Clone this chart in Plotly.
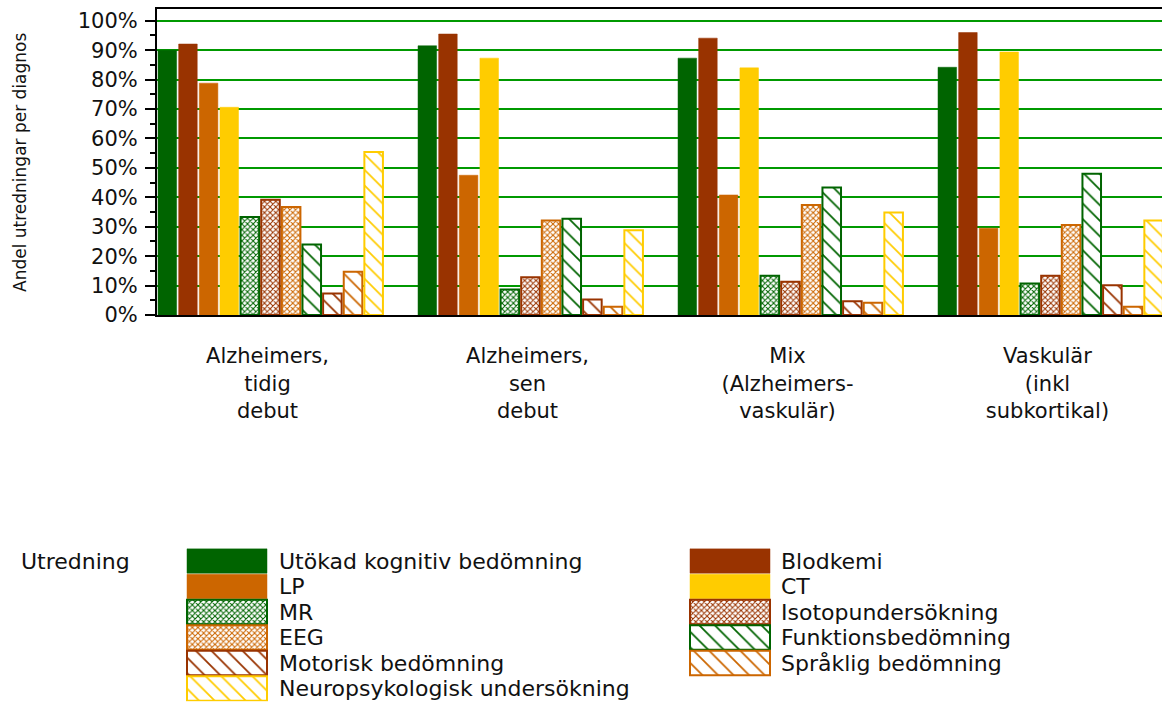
import plotly.graph_objects as go

# ---- data ----
categories = ["Alzheimers,<br>tidig<br>debut", "Alzheimers,<br>sen<br>debut",
              "Mix<br>(Alzheimers-<br>vaskulär)", "Vaskulär<br>(inkl<br>subkortikal)"]
series_names = ["Utökad kognitiv bedömning", "Blodkemi", "LP", "CT", "MR",
                "Isotopundersökning", "EEG", "Funktionsbedömning",
                "Motorisk bedömning", "Språklig bedömning", "Neuropsykologisk undersökning"]
utokad = [90.0, 91.5, 87.3, 84.2]
blodkemi = [92.1, 95.5, 94.1, 96.0]
lp = [78.8, 47.5, 40.8, 29.5]
ct = [70.6, 87.3, 84.0, 89.4]
mr = [33.3, 8.7, 13.3, 10.7]
isotop = [39.2, 12.8, 11.3, 13.3]
eeg = [36.7, 32.1, 37.4, 30.6]
funktion = [24.0, 32.7, 43.3, 48.0]
motorisk = [7.3, 5.3, 4.7, 10.1]
spraklig = [14.7, 2.8, 4.2, 2.8]
neuro = [55.4, 28.8, 34.8, 32.1]
series_values = [utokad, blodkemi, lp, ct, mr, isotop, eeg, funktion, motorisk, spraklig, neuro]
y_ticks = list(range(0, 101, 10))
y_tick_labels = [f"{v}%" for v in y_ticks]

# ---- styles ----
GREEN, BROWN, ORANGE, YELLOW = "#006400", "#993300", "#CC6600", "#FFCC00"
styles = [(GREEN, ""), (BROWN, ""), (ORANGE, ""), (YELLOW, ""),
          (GREEN, "x"), (BROWN, "x"), (ORANGE, "x"),
          (GREEN, "\\"), (BROWN, "\\"), (ORANGE, "\\"), (YELLOW, "\\")]

W, H = 1162, 706
FONT = "DejaVu Sans"
TXT = "#111111"
FS = 21
FS_LEG = 22


def marker_for(color, shape):
    if shape == "":
        return dict(color=color, line=dict(color=color, width=0.5))
    size, sol = (4, 0.45) if shape == "x" else (11, 0.16)
    return dict(color="white", line=dict(color=color, width=2),
                pattern=dict(shape=shape, fgcolor=color, bgcolor="white", fgopacity=1,
                             size=size, solidity=sol, fillmode="replace"))


fig = go.Figure()
for name, vals, (col, shp) in zip(series_names, series_values, styles):
    fig.add_trace(go.Bar(x=categories, y=vals, name=name, marker=marker_for(col, shp),
                         showlegend=False, xaxis="x", yaxis="y",
                         hovertemplate="%{y:.1f}%<extra>" + name + "</extra>"))

# ---- custom legend drawn as bars on an auxiliary axis ----
col_x = [187, 690]
text_x = [277, 779]
for i, (name, (col, shp)) in enumerate(zip(series_names, styles)):
    r, c = divmod(i, 2)
    fig.add_trace(go.Bar(orientation="h", y=[r], x=[80], base=[col_x[c]], width=0.96,
                         offsetgroup="legend", marker=marker_for(col, shp),
                         showlegend=False, xaxis="x2", yaxis="y2", hoverinfo="skip"))
    fig.add_annotation(x=text_x[c], y=r, xref="x2", yref="y2", text=name,
                       showarrow=False, xanchor="left", yanchor="middle",
                       font=dict(family=FONT, size=FS_LEG, color=TXT))
fig.add_annotation(x=19, y=0, xref="x2", yref="y2", text="Utredning",
                   showarrow=False, xanchor="left", yanchor="middle",
                   font=dict(family=FONT, size=FS_LEG, color=TXT))

# y-axis title
fig.add_annotation(x=20 / W, y=1 - 162 / H, xref="paper", yref="paper",
                   xanchor="center", yanchor="middle",
                   text="Andel utredningar per diagnos", textangle=-90,
                   showarrow=False, font=dict(family=FONT, size=17, color=TXT))

fig.update_layout(
    width=W, height=H,
    margin=dict(l=0, r=0, t=0, b=0, autoexpand=False),
    paper_bgcolor="white", plot_bgcolor="white",
    barmode="group", bargap=0.127, bargroupgap=0.1,
    font=dict(family=FONT, size=FS, color=TXT),
    xaxis=dict(domain=[157 / W, 1], range=[-0.4365, 3.429], type="category",
               automargin=False,
               showline=True, linecolor="black", linewidth=2, mirror=True,
               ticks="", showgrid=False, ticklabelshift=-3, ticklabelstandoff=21,
               tickfont=dict(family=FONT, size=FS, color=TXT)),
    yaxis=dict(domain=[1 - 315 / H, 1 - 9 / H], range=[0, 104], automargin=False,
               tickmode="array", tickvals=y_ticks, ticktext=y_tick_labels,
               showline=True, linecolor="black",
               linewidth=2, ticks="outside", ticklen=10, tickwidth=1.5, tickcolor="black",
               showgrid=True, gridcolor="#009900", gridwidth=2, zeroline=False,
               ticklabelstandoff=3,
               minor=dict(dtick=5, ticks="outside", ticklen=5, tickcolor="black",
                          tickwidth=1.5, showgrid=False),
               tickfont=dict(family=FONT, size=FS, color=TXT)),
    xaxis2=dict(domain=[0, 1], range=[0, W], visible=False, anchor="y2", automargin=False),
    yaxis2=dict(domain=[(H - 701.25) / H, (H - 548.25) / H], range=[5.5, -0.5],
                visible=False, anchor="x2", automargin=False),
)

fig.write_html("out.html", config={"displayModeBar": False},
               post_script="document.body.style.margin='0px';")
